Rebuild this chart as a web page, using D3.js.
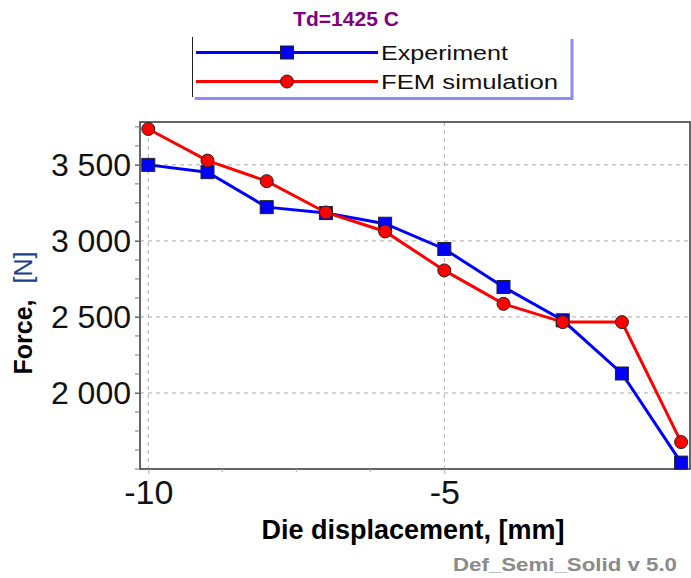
<!DOCTYPE html>
<html>
<head>
<meta charset="utf-8">
<script src="https://cdn.jsdelivr.net/npm/d3@7"></script>
<style>
	body { margin: 0; background: #fff; }
	svg { display: block; font-family: "Liberation Sans", Arial, sans-serif; }
</style>
</head>
<body>
<div id="chart"></div>
<script>
// chart values
var displacement = [-10, -9, -8, -7, -6, -5, -4, -3, -2, -1];
var experiment = [3500, 3452, 3222, 3183, 3113, 2947, 2697, 2478, 2128, 1542];
var femSimulation = [3736, 3528, 3393, 3187, 3062, 2806, 2586, 2466, 2466, 1677];
var yTicks = [2000, 2500, 3000, 3500];
var yMinorTicks = d3.range(1500, 3800, 125);
var xTicks = [-10, -5];
var xMinorTicks = [-8.75, -7.5, -6.25];
var seriesNames = ['Experiment', 'FEM simulation'];

var width = 691,
	height = 578,
	plot = { left: 140, right: 690, top: 122, bottom: 469 };

var svg = d3.select('#chart').append('svg')
	.attr('width', width)
	.attr('height', height);

var xScale = d3.scaleLinear().domain([-10.14, -0.85]).range([plot.left, plot.right]);
var yScale = d3.scaleLinear().domain([1500, 3782]).range([plot.bottom, plot.top]);

var fmt = d3.formatLocale({ decimal: '.', thousands: ' ', grouping: [3], currency: ['', ''] }).format(',d');

// grid
svg.append('g').selectAll('line').data(yTicks).enter().append('line')
	.attr('x1', plot.left).attr('x2', plot.right)
	.attr('y1', function(d) { return yScale(d); })
	.attr('y2', function(d) { return yScale(d); })
	.attr('stroke', '#aaa').attr('stroke-dasharray', '4,4');
svg.append('g').selectAll('line').data(xTicks).enter().append('line')
	.attr('y1', plot.top).attr('y2', plot.bottom)
	.attr('x1', function(d) { return xScale(d); })
	.attr('x2', function(d) { return xScale(d); })
	.attr('stroke', '#aaa').attr('stroke-dasharray', '4,4');

// frame
svg.append('rect')
	.attr('x', plot.left).attr('y', plot.top)
	.attr('width', plot.right - plot.left).attr('height', plot.bottom - plot.top)
	.attr('fill', 'none').attr('stroke', '#333').attr('stroke-width', 1.5);

// y axis
var yAxis = d3.axisLeft(yScale).tickValues(yTicks).tickSize(5).tickPadding(4).tickFormat(fmt);
var yAxisG = svg.append('g')
	.attr('transform', 'translate(' + plot.left + ',0)')
	.call(yAxis);
yAxisG.select('.domain').remove();
yAxisG.selectAll('line').attr('stroke', '#555');
yAxisG.selectAll('text')
	.attr('font-size', 32).attr('fill', '#111')
	.attr('font-family', '"Liberation Sans", Arial, sans-serif')
	.attr('dy', '0.34em');
svg.append('g').selectAll('line').data(yMinorTicks).enter().append('line')
	.attr('x1', plot.left - 5).attr('x2', plot.left)
	.attr('y1', function(d) { return yScale(d); })
	.attr('y2', function(d) { return yScale(d); })
	.attr('stroke', '#777');

// x axis
var xAxis = d3.axisBottom(xScale).tickValues(xTicks).tickSize(5).tickPadding(6).tickFormat(d3.format('d'));
var xAxisG = svg.append('g')
	.attr('transform', 'translate(0,' + plot.bottom + ')')
	.call(xAxis);
xAxisG.select('.domain').remove();
xAxisG.selectAll('line').attr('stroke', '#aaa');
xAxisG.selectAll('text')
	.attr('font-size', 34).attr('fill', '#111')
	.attr('font-family', '"Liberation Sans", Arial, sans-serif')
	.attr('dy', '0.71em')
	.text(function(d) { return d3.format('d')(d).replace('\u2212', '-'); });
svg.append('g').selectAll('line').data(xMinorTicks).enter().append('line')
	.attr('y1', plot.bottom).attr('y2', plot.bottom + 3)
	.attr('x1', function(d) { return xScale(d); })
	.attr('x2', function(d) { return xScale(d); })
	.attr('stroke', '#aaa');

// axis titles
svg.append('text')
	.attr('x', 413).attr('y', 539)
	.attr('text-anchor', 'middle')
	.attr('font-size', 27).attr('font-weight', 'bold')
	.text('Die displacement, [mm]');

var yTitle = svg.append('text')
	.attr('transform', 'translate(32,313) rotate(-90)')
	.attr('text-anchor', 'middle')
	.attr('font-size', 25);
yTitle.append('tspan').attr('font-weight', 'bold').attr('fill', '#000').text('Force,');
yTitle.append('tspan').attr('dx', 16).attr('fill', '#1c3f8c').text('[N]');

// series
var series = [
	{ name: seriesNames[0], values: experiment, color: '#0000ff', shape: 'square' },
	{ name: seriesNames[1], values: femSimulation, color: '#ff0000', shape: 'circle' }
];

var line = d3.line()
	.x(function(d) { return xScale(d[0]); })
	.y(function(d) { return yScale(d[1]); });

var drawMarker = function(g, shape, color, x, y) {
	if (shape === 'square') {
		g.append('rect')
			.attr('x', x - 6.5).attr('y', y - 6.5)
			.attr('width', 13).attr('height', 13)
			.attr('fill', color).attr('stroke', '#222').attr('stroke-width', 1);
	} else {
		g.append('circle')
			.attr('cx', x).attr('cy', y).attr('r', 6.5)
			.attr('fill', color).attr('stroke', '#222').attr('stroke-width', 1);
	}
};

series.forEach(function(s) {
	var pts = displacement.map(function(x, i) { return [x, s.values[i]]; });
	var g = svg.append('g');
	g.append('path')
		.attr('d', line(pts))
		.attr('fill', 'none')
		.attr('stroke', s.color)
		.attr('stroke-width', 3);
	pts.forEach(function(p) {
		drawMarker(g, s.shape, s.color, xScale(p[0]), yScale(p[1]));
	});
});

// title
svg.append('text')
	.attr('x', 346).attr('y', 26)
	.attr('text-anchor', 'middle')
	.attr('font-size', 21).attr('font-weight', 'bold')
	.attr('fill', '#800080')
	.text('Td=1425 C');

// legend
var legend = svg.append('g');
legend.append('line')
	.attr('x1', 192.5).attr('x2', 192.5).attr('y1', 37).attr('y2', 97)
	.attr('stroke', '#222').attr('stroke-width', 1);
legend.append('path')
	.attr('d', 'M195,98.5 H572 V39')
	.attr('fill', 'none').attr('stroke', '#8c8cf5').attr('stroke-width', 3);

var legendRows = [52.5, 81.5];
var legendWidths = [127, 177];
series.forEach(function(s, i) {
	var y = legendRows[i];
	legend.append('line')
		.attr('x1', 196).attr('x2', 378).attr('y1', y).attr('y2', y)
		.attr('stroke', s.color).attr('stroke-width', 3);
	drawMarker(legend, s.shape, s.color, 287, y);
	legend.append('text')
		.attr('x', 381).attr('y', y + 7.5)
		.attr('font-size', 20).attr('fill', '#111')
		.attr('textLength', legendWidths[i])
		.attr('lengthAdjust', 'spacingAndGlyphs')
		.text(s.name);
});

// watermark
svg.append('text')
	.attr('x', 453).attr('y', 571)
	.attr('font-size', 18).attr('font-weight', 'bold')
	.attr('fill', '#8a8a8a')
	.attr('textLength', 224)
	.attr('lengthAdjust', 'spacingAndGlyphs')
	.text('Def_Semi_Solid v 5.0');
</script>
</body>
</html>
